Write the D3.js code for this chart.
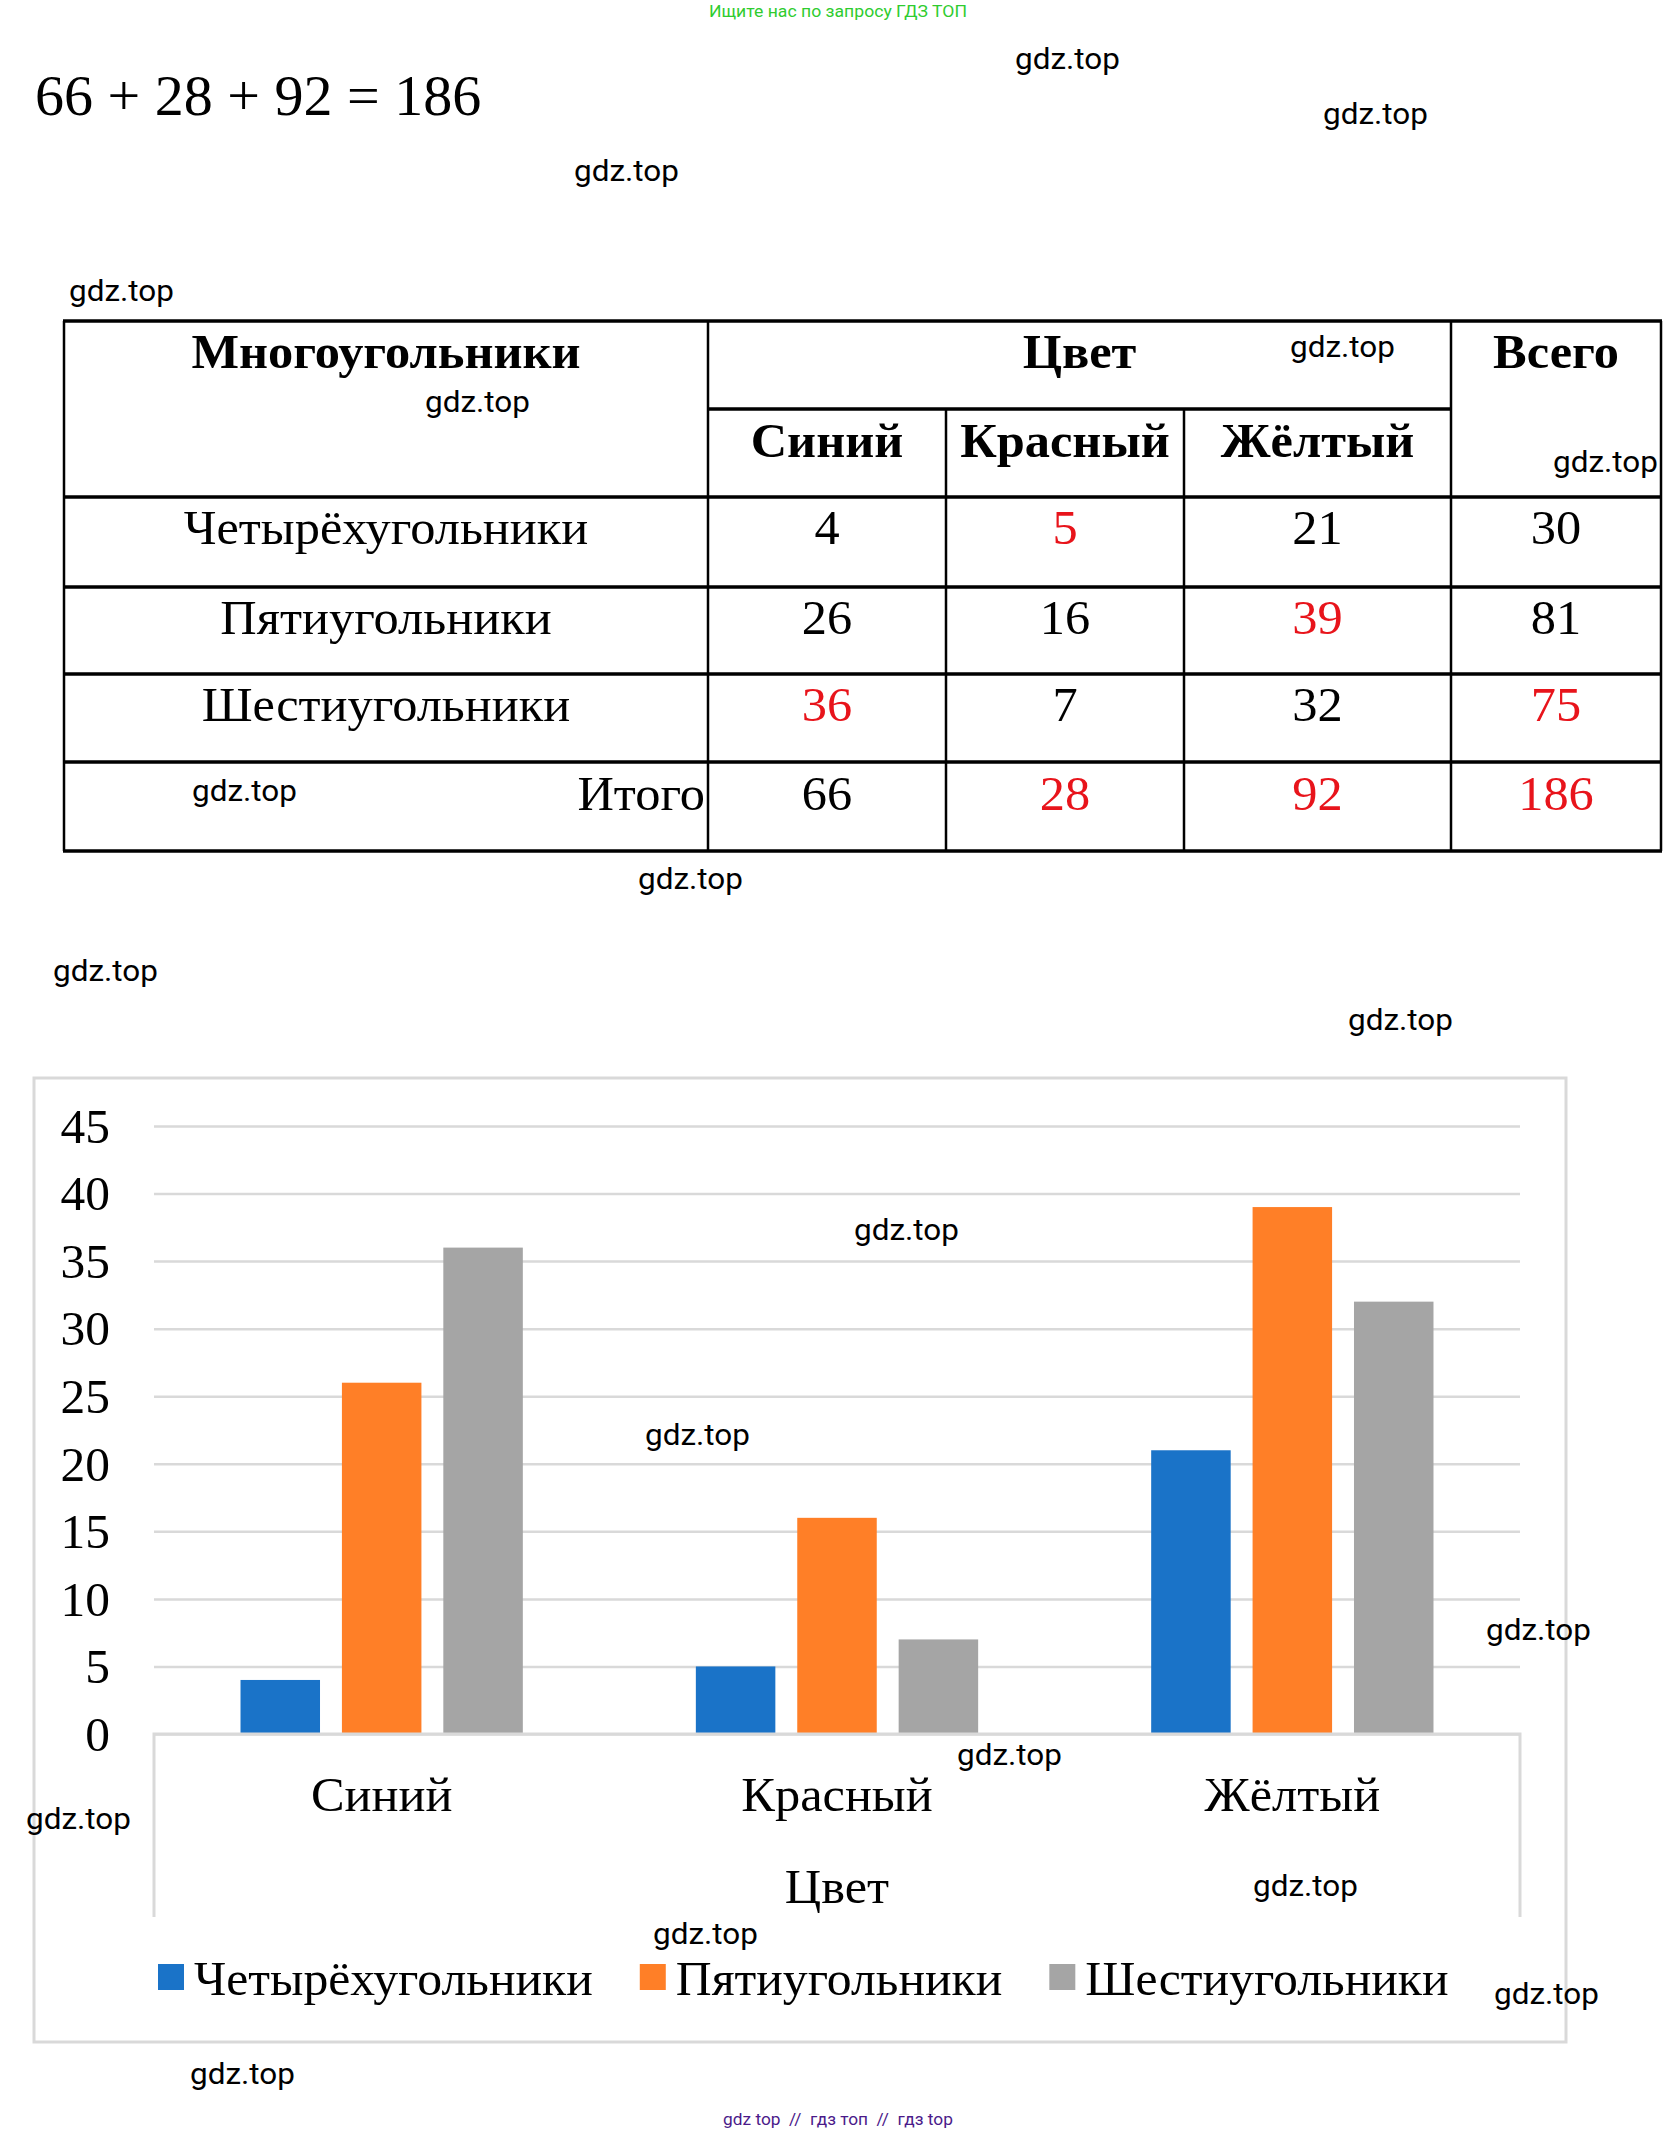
<!DOCTYPE html>
<html>
<head>
<meta charset="utf-8">
<script src="https://cdnjs.cloudflare.com/ajax/libs/d3/7.8.5/d3.min.js"></script>
<style>
body { margin: 0; background: #fff; }
svg text { font-family: "Liberation Serif", "Times New Roman", serif; fill: #000; }
svg text.wm { font-family: Roboto, "Liberation Sans", sans-serif; font-size: 29px; }
</style>
</head>
<body>
<div id="my_dataviz"></div>
<script>
// table / chart data
var colors = ["Синий", "Красный", "Жёлтый"];
var shapes = ["Четырёхугольники", "Пятиугольники", "Шестиугольники"];
var quadValues = [4, 5, 21];
var pentaValues = [26, 16, 39];
var hexaValues = [36, 7, 32];
var rowTotals = [30, 81, 75];
var colTotals = [66, 28, 92];
var grandTotal = 186;
var redCells = [[0, 1], [1, 2], [2, 0], [2, 3], [3, 1], [3, 2], [3, 3]];
var yTicks = [0, 5, 10, 15, 20, 25, 30, 35, 40, 45];
var seriesColors = ["#1a73c8", "#ff7f27", "#a5a5a5"];

// watermark positions (layout only)
var marks = [[1015, 69], [1323, 124], [574, 181], [69, 301], [1290, 357], [425, 412], [1553, 472],
    [192, 801], [638, 889], [53, 981], [1348, 1030], [854, 1240], [645, 1445], [1486, 1640],
    [957, 1765], [26, 1829], [1253, 1896], [653, 1944], [1494, 2004], [190, 2084]];

// the source picture is a bit wider than the fonts we have
function widen(sel, k) {
    sel.each(function () {
        var len = this.getComputedTextLength();
        d3.select(this)
            .attr("textLength", len * k)
            .attr("lengthAdjust", "spacingAndGlyphs");
    });
    return sel;
}

var W = 1676, H = 2133;
var svg = d3.select("#my_dataviz").append("svg")
    .attr("width", W)
    .attr("height", H);

svg.append("text")
    .attr("x", 838).attr("y", 17)
    .attr("text-anchor", "middle")
    .style("font-family", "Roboto, sans-serif")
    .style("font-size", "16px")
    .style("fill", "#2fcc2f")
    .text("Ищите нас по запросу ГДЗ ТОП")
    .call(widen, 1.1);

svg.append("text")
    .attr("x", 35).attr("y", 115)
    .style("font-size", "58px")
    .text(colTotals.join(" + ") + " = " + grandTotal);

// ---------- table ----------
var cols = [64, 708, 946, 1184, 1451, 1661];
var rows = [321, 497, 587, 674, 762, 851];
var subLine = 409;
var table = svg.append("g");

rows.forEach(function (ry) {
    table.append("line")
        .attr("x1", cols[0] - 1).attr("x2", cols[5] + 1)
        .attr("y1", ry).attr("y2", ry)
        .attr("stroke", "#000").attr("stroke-width", 3.5);
});
table.append("line")
    .attr("x1", cols[1]).attr("x2", cols[4])
    .attr("y1", subLine).attr("y2", subLine)
    .attr("stroke", "#000").attr("stroke-width", 3.5);
cols.forEach(function (cx, i) {
    var top = (i == 2 || i == 3) ? subLine : rows[0];
    table.append("line")
        .attr("x1", cx).attr("x2", cx)
        .attr("y1", top).attr("y2", rows[5])
        .attr("stroke", "#000").attr("stroke-width", 2.5);
});

function cellText(x, y, txt, opts) {
    opts = opts || {};
    return table.append("text")
        .attr("x", x).attr("y", y)
        .attr("text-anchor", opts.anchor || "middle")
        .style("font-size", "48px")
        .style("font-weight", opts.bold ? "bold" : "normal")
        .style("fill", opts.red ? "#e8141b" : "#000")
        .text(txt)
        .call(widen, 1.05);
}
function mid(i) { return (cols[i] + cols[i + 1]) / 2; }

cellText(mid(0), 368, "Многоугольники", {bold: true});
cellText((cols[1] + cols[4]) / 2, 368, "Цвет", {bold: true});
cellText(mid(4), 368, "Всего", {bold: true});
colors.forEach(function (c, i) {
    cellText(mid(i + 1), 457, c, {bold: true});
});

var grid = [quadValues, pentaValues, hexaValues];
function isRed(r, c) {
    return redCells.some(function (p) { return p[0] == r && p[1] == c; });
}
shapes.forEach(function (s, r) {
    var by = rows[r + 1] + 47;
    cellText(mid(0), by, s);
    grid[r].forEach(function (v, c) {
        cellText(mid(c + 1), by, v, {red: isRed(r, c)});
    });
    cellText(mid(4), by, rowTotals[r], {red: isRed(r, 3)});
});
var lastY = rows[4] + 48;
cellText(cols[1] - 3, lastY, "Итого", {anchor: "end"});
colTotals.forEach(function (v, c) {
    cellText(mid(c + 1), lastY, v, {red: isRed(3, c)});
});
cellText(mid(4), lastY, grandTotal, {red: isRed(3, 3)});

// ---------- chart ----------
var chart = svg.append("g");
chart.append("rect")
    .attr("x", 34).attr("y", 1078)
    .attr("width", 1532).attr("height", 964)
    .attr("fill", "none")
    .attr("stroke", "#d9d9d9").attr("stroke-width", 3);

var plotL = 154, plotR = 1520, plotB = 1734, plotT = 1126;
var y = d3.scaleLinear().domain([0, 45]).range([plotB, plotT]);
var x0 = d3.scaleBand().domain(colors).range([plotL, plotR]);
var groupW = x0.bandwidth() * 0.62;
var x1 = d3.scaleBand().domain(shapes).range([0, groupW]).paddingInner(0.216);

var yAxis = chart.append("g")
    .attr("transform", "translate(" + plotL + ",0)")
    .call(d3.axisLeft(y).tickValues(yTicks).tickSize(-(plotR - plotL)).tickPadding(44));
yAxis.select(".domain").remove();
yAxis.selectAll(".tick line").attr("stroke", "#d9d9d9").attr("stroke-width", 2.5);
yAxis.selectAll(".tick text")
    .style("font-size", "48px")
    .style("font-family", "'Liberation Serif', serif")
    .attr("dy", "0.34em")
    .call(widen, 1.03);

var series = [quadValues, pentaValues, hexaValues];
series.forEach(function (vals, si) {
    chart.selectAll(".bar" + si)
        .data(vals)
        .enter()
        .append("rect")
        .attr("x", function (d, i) {
            return x0(colors[i]) + (x0.bandwidth() - groupW) / 2 + x1(shapes[si]);
        })
        .attr("y", function (d) { return y(d); })
        .attr("width", x1.bandwidth())
        .attr("height", function (d) { return plotB - y(d); })
        .attr("fill", seriesColors[si]);
});

// axis box
chart.append("path")
    .attr("d", "M" + plotL + "," + 1917 + "V" + plotB + "H" + plotR + "V" + 1917)
    .attr("fill", "none")
    .attr("stroke", "#d9d9d9").attr("stroke-width", 3);

var xAxis = chart.append("g")
    .attr("transform", "translate(0," + plotB + ")")
    .call(d3.axisBottom(x0).tickSize(0).tickPadding(43));
xAxis.select(".domain").remove();
xAxis.selectAll(".tick text")
    .style("font-size", "48px")
    .style("font-family", "'Liberation Serif', serif")
    .call(widen, 1.05);

chart.append("text")
    .attr("x", (plotL + plotR) / 2).attr("y", 1903)
    .attr("text-anchor", "middle")
    .style("font-size", "48px")
    .text("Цвет")
    .call(widen, 1.05);

// legend
var lx = 158;
shapes.forEach(function (s, i) {
    chart.append("rect")
        .attr("x", lx).attr("y", 1964)
        .attr("width", 26).attr("height", 26)
        .attr("fill", seriesColors[i]);
    var t = chart.append("text")
        .attr("x", lx + 36).attr("y", 1995)
        .style("font-size", "48px")
        .text(s);
    var len = t.node().getComputedTextLength() * 1.035;
    t.attr("textLength", len).attr("lengthAdjust", "spacingAndGlyphs");
    lx = lx + 36 + len + 47;
});

// watermarks
svg.selectAll(".wm")
    .data(marks)
    .enter()
    .append("text")
    .attr("class", "wm")
    .attr("x", function (d) { return d[0]; })
    .attr("y", function (d) { return d[1]; })
    .text("gdz.top")
    .call(widen, 1.085);

svg.append("text")
    .attr("x", 838).attr("y", 2125)
    .attr("text-anchor", "middle")
    .style("font-family", "Roboto, sans-serif")
    .style("font-size", "16px")
    .style("fill", "#4b1a8a")
    .attr("xml:space", "preserve")
    .text("gdz top  //  гдз топ  //  гдз top")
    .call(widen, 1.08);
</script>
</body>
</html>
